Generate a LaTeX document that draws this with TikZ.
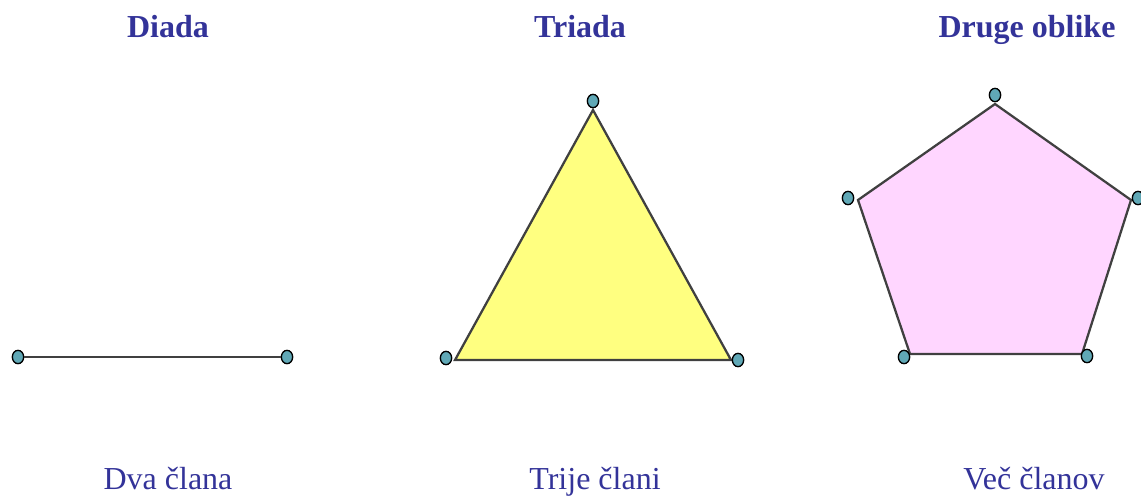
\documentclass[tikz,border=0pt]{standalone}
\usepackage{fontspec}
\setmainfont{Liberation Serif}
\usetikzlibrary{positioning}
\usetikzlibrary{shapes.geometric}
\definecolor{titleblue}{RGB}{51,51,153}
\definecolor{dotteal}{RGB}{96,168,182}
\definecolor{triyellow}{RGB}{255,255,128}
\definecolor{pentpink}{RGB}{255,214,255}

\begin{document}
\begin{tikzpicture}[x=0.75pt, y=-0.75pt,
		title/.style = {anchor=base, text=titleblue, font=\fontsize{24}{28}\selectfont\bfseries},
		caption/.style = {anchor=base, text=titleblue, font=\fontsize{24}{28}\selectfont},
		v/.style = {ellipse, draw=black, fill=dotteal, line width=1pt, minimum width=8.5pt, minimum height=10pt, inner sep=0pt},
		e/.style = {draw={black!75}, line width=1.7pt},
		]
		\useasboundingbox (0,0) rectangle (1141,496);
		
		% titles
		\node[title]	(tdiada)	at (168, 37)	{Diada};
		\node[title]	(ttriada)	at (580, 37)	{Triada};
		\node[title]	(tdruge)	at (1027, 37)	{Druge oblike};
		
		% diada
		\node[v]	(d1)	at (18, 357)	{};
		\node[v]	(d2)	at (287, 357)	{};
		\draw[e]	(d1)	--	(d2);
		
		% triada
		\coordinate	(ta)	at (593, 110);
		\coordinate	(tb)	at (455, 360);
		\coordinate	(tc)	at (731, 360);
		\draw[e, fill=triyellow]	(ta) -- (tb) -- (tc) -- cycle;
		\node[v]	(t1)	at (593, 101)	{};
		\node[v]	(t2)	at (446, 358)	{};
		\node[v]	(t3)	at (738, 360)	{};
		
		% druge oblike
		\coordinate	(pa)	at (995, 104);
		\coordinate	(pb)	at (858, 200);
		\coordinate	(pc)	at (910, 354);
		\coordinate	(pd)	at (1082, 354);
		\coordinate	(pe)	at (1131, 200);
		\draw[e, fill=pentpink]	(pa) -- (pb) -- (pc) -- (pd) -- (pe) -- cycle;
		\node[v]	(p1)	at (995, 95)	{};
		\node[v]	(p2)	at (848, 198)	{};
		\node[v]	(p3)	at (904, 357)	{};
		\node[v]	(p4)	at (1087, 356)	{};
		\node[v]	(p5)	at (1138, 198)	{};
		
		% captions
		\node[caption]	(cdiada)	at (168, 489)	{Dva člana};
		\node[caption]	(ctriada)	at (595, 489)	{Trije člani};
		\node[caption]	(cdruge)	at (1034, 489)	{Več članov};
\end{tikzpicture}
\end{document}
